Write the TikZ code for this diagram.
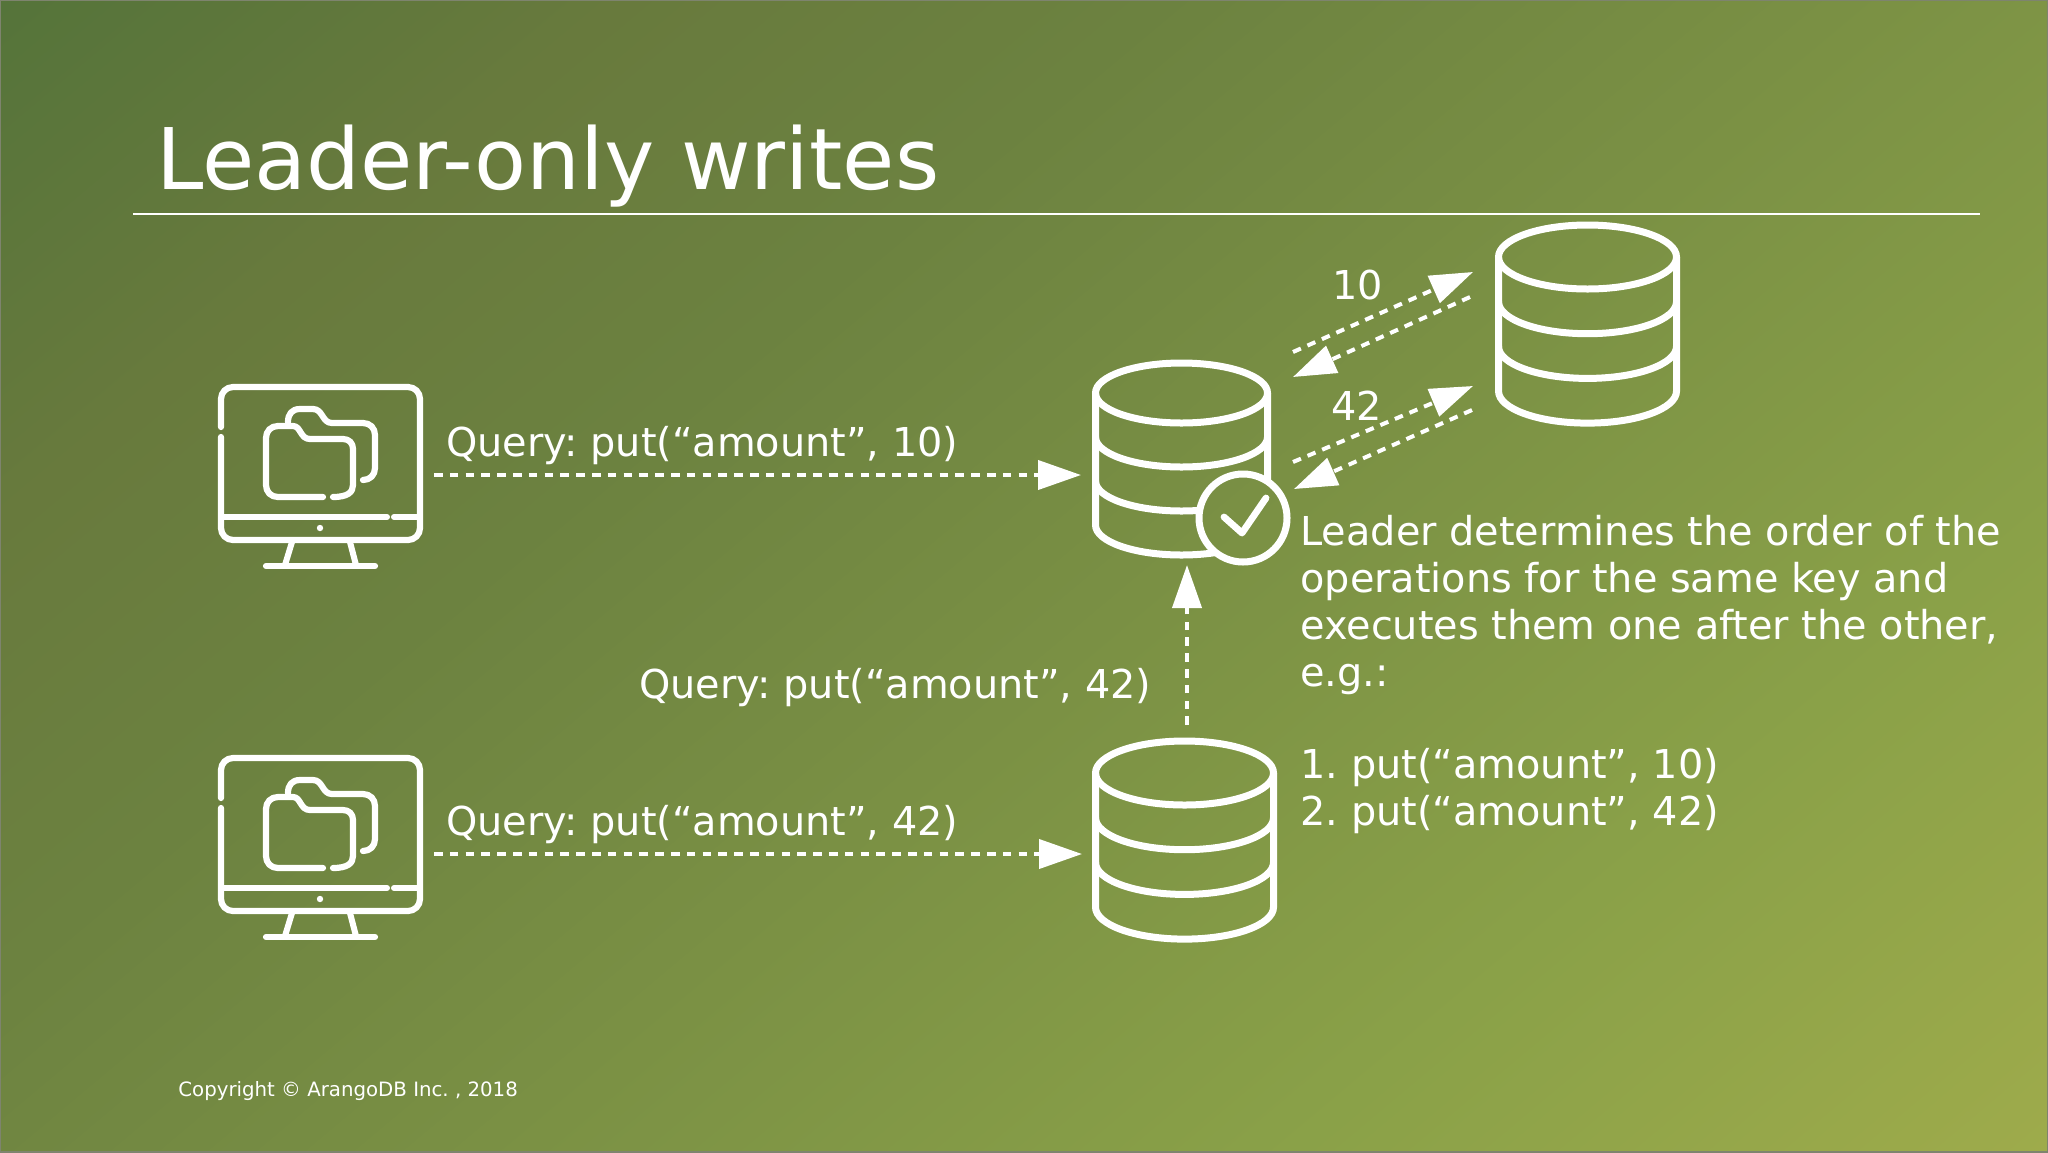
\documentclass[tikz,border=0pt]{standalone}
\usepackage{fontspec}
\setmainfont{DejaVu Sans}
\usetikzlibrary{arrows.meta}
\definecolor{bga}{HTML}{55743A}
\definecolor{bgb}{HTML}{687A3D}
\definecolor{bgc}{HTML}{6C8240}
\definecolor{bgd}{HTML}{7A9044}
\definecolor{bge}{HTML}{8AA148}
\definecolor{bgf}{HTML}{9EAB4B}
\pgfdeclareverticalshading{bgshade}{100bp}{color(0bp)=(bga); color(25bp)=(bga); color(34bp)=(bgb); color(42bp)=(bgc); color(52bp)=(bgd); color(64bp)=(bge); color(75bp)=(bgf); color(100bp)=(bgf)}
\newcommand{\dbicon}[6]{% cx, rx, ry, first y, gap, name
  \draw[iconline] (#1,#4) ellipse [x radius=#2, y radius=#3];
  \draw[iconline] (#1-#2,#4) -- (#1-#2,#4+3*#5) arc[start angle=180,end angle=0,x radius=#2,y radius=#3] -- (#1+#2,#4);
  \draw[iconline] (#1-#2,#4+#5) arc[start angle=180,end angle=0,x radius=#2,y radius=#3];
  \draw[iconline] (#1-#2,#4+2*#5) arc[start angle=180,end angle=0,x radius=#2,y radius=#3];
  \coordinate (#6) at (#1,#4);
}
\tikzset{
  iconline/.style={draw=white,line width=3.5pt,line cap=butt},
  roundline/.style={draw=white,line width=3.1pt,line cap=round,line join=round},
  flow/.style={draw=white,line width=2pt,dash pattern=on 4.3pt off 3.6pt,-{Triangle[length=21.5pt,width=14.5pt,fill=white]}},
  label/.style={text=white,inner sep=0pt,anchor=base west,font=\fontsize{19.9}{23.5}\selectfont},
  para/.style={text=white,inner sep=0pt,anchor=north west,align=left,font=\fontsize{19.9}{23.5}\selectfont},
  pics/monitor/.style={code={
    \draw[roundline] (0,40) -- (0,12) arc[start angle=180,end angle=270,radius=12] -- (187,0) arc[start angle=270,end angle=360,radius=12] -- (199,141) arc[start angle=0,end angle=90,radius=12] -- (12,153) arc[start angle=90,end angle=180,radius=12] -- (0,50);
    \draw[roundline,line width=3pt] (2,130) -- (166,130) (173,130) -- (197,130);
    \fill[white] (99,141) circle[radius=3.2];
    \draw[roundline,line width=3pt,line cap=butt] (71,155) -- (64,178) (129,155) -- (135,178);
    \draw[roundline] (45,179) -- (154,179);
    \draw[roundline] (102,110) -- (57,110) .. controls (50,110) and (45,105) .. (45,98) -- (45,51) .. controls (45,44) and (50,39) .. (57,39) -- (72,39) .. controls (80,39) and (79,52) .. (89,52) -- (122,52) .. controls (128,52) and (132,56) .. (132,62) -- (132,98) .. controls (132,105) and (127,110) .. (112,110);
    \draw[roundline] (67,35) .. controls (67,27) and (71,22) .. (79,22) -- (92,22) .. controls (102,22) and (101,36) .. (111,36) -- (142,36) .. controls (149,36) and (154,41) .. (154,48) -- (154,81) .. controls (154,88) and (149,93) .. (142,93);
  }}
}
\begin{document}
\frenchspacing
\begin{tikzpicture}[x=0.5pt,y=-0.5pt]
\useasboundingbox (0,0) rectangle (2048,1152);
\begin{scope}
  \clip (0,0) rectangle (2048,1152);
  \shade[shading=bgshade,shading angle=220] (1024-1100,576-1100) rectangle (1024+1100,576+1100);
\end{scope}
\draw[color=gray!70!bgd,line width=1pt] (0,0) rectangle (2048,1152);

% title
\node[text=white,inner sep=0pt,anchor=base west,font=\fontsize{42.5}{50}\selectfont] (title) at (156,189) {Leader-only writes};
\coordinate (ruleL) at (133,213.5);
\coordinate (ruleR) at (1980,213.5);
\draw[white,line width=1pt] (ruleL) -- (ruleR);

% clients
\pic at (221,387) {monitor};
\pic at (221,758) {monitor};

% leader database, with lines hidden behind the check badge
\begin{scope}[even odd rule]
  \clip (0,0) rectangle (2048,1152) (1243,518) circle[radius=44];
  \dbicon{1181.5}{86}{30}{393}{44}{leader}
\end{scope}
\draw[iconline] (1243,518) circle[radius=44];
\draw[roundline,line width=3.4pt] (1224,517) -- (1242,533) -- (1266,498);

% followers
\dbicon{1587.5}{89}{32}{257}{44.7}{followerA}
\dbicon{1184.5}{89}{32}{773}{44.7}{followerB}

% connector anchors
\coordinate (c1) at (434,475);
\coordinate (l1) at (1081,475);
\coordinate (c2) at (434,854);
\coordinate (l2) at (1082,854);
\coordinate (f1) at (1187,725);
\coordinate (l3) at (1187,565);
\coordinate (a1) at (1293,352);
\coordinate (b1) at (1473,272);
\coordinate (b2) at (1470,297);
\coordinate (a2) at (1293,377);
\coordinate (a3) at (1293,462);
\coordinate (b3) at (1473,386);
\coordinate (b4) at (1472,410);
\coordinate (a4) at (1294,489);
\draw[flow] (c1) -- (l1);
\draw[flow] (c2) -- (l2);
\draw[flow] (f1) -- (l3);
\draw[flow] (a1) -- (b1);
\draw[flow] (b2) -- (a2);
\draw[flow] (a3) -- (b3);
\draw[flow] (b4) -- (a4);

% labels
\node[label] (q1) at (446,456) {Query: put(“amount”, 10)};
\node[label] (q2) at (446,835) {Query: put(“amount”, 42)};
\node[label] (q3) at (639,698) {Query: put(“amount”, 42)};
\node[label] (v10) at (1332,299) {10};
\node[label] (v42) at (1331,420) {42};
\node[para] (desc) at (1300,515) {Leader determines the order of the\\operations for the same key and\\executes them one after the other,\\e.g.:};
\node[para] (order) at (1300,748) {1. put(“amount”, 10)\\2. put(“amount”, 42)};
\node[text=white,inner sep=0pt,anchor=base west,font=\fontsize{9.88}{12}\selectfont] (copy) at (178,1096) {Copyright © ArangoDB Inc. , 2018};
\end{tikzpicture}
\end{document}
